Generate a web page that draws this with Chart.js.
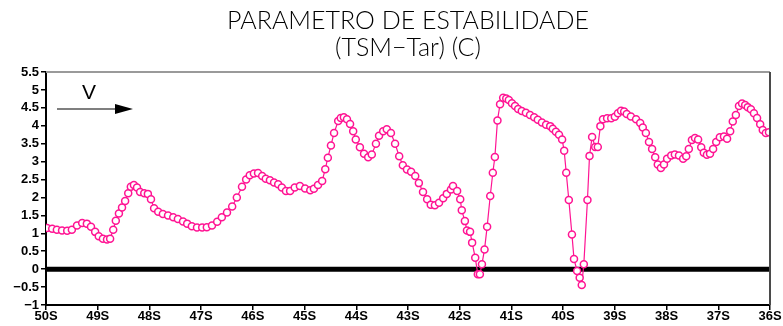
<!DOCTYPE html>
<html>
<head>
<meta charset="utf-8">
<script src="https://cdn.jsdelivr.net/npm/chart.js@4.4.1/dist/chart.umd.min.js"></script>
<style>
  html, body { margin: 0; padding: 0; background: #fff; }
  #c { display: block; }
</style>
</head>
<body>
<canvas id="c" width="783" height="326"></canvas>
<script>
// ---- data ----
const titleLines = ['PARAMETRO DE ESTABILIDADE', '(TSM\u2212Tar) (C)'];
const directionLabel = 'V';
const latRange = [-50, -36];
const zeroLevel = 0;
const xTickLabels = ['50S','49S','48S','47S','46S','45S','44S','43S','42S','41S','40S','39S','38S','37S','36S'];
const yTickLabels = ['\u22121','\u22120.5','0','0.5','1','1.5','2','2.5','3','3.5','4','4.5','5','5.5'];

const lats = [
  -49.98,-49.88,-49.79,-49.69,-49.59,-49.50,-49.40,-49.30,-49.21,-49.13,-49.05,-48.98,-48.90,-48.82,-48.76,
  -48.70,-48.65,-48.59,-48.53,-48.47,-48.41,-48.36,-48.30,-48.24,-48.18,-48.10,-48.03,-47.97,-47.91,-47.83,
  -47.74,-47.64,-47.54,-47.45,-47.35,-47.27,
  -47.18,-47.08,-46.98,-46.89,-46.79,-46.69,-46.60,-46.50,-46.40,-46.31,-46.21,-46.13,-46.06,-45.98,-45.90,
  -45.82,-45.75,-45.67,-45.59,-45.51,-45.44,-45.36,-45.28,-45.19,-45.09,-44.99,-44.89,-44.82,-44.74,-44.66,
  -44.60,-44.55,-44.49,-44.43,
  -44.35,-44.30,-44.24,-44.18,-44.12,-44.06,-44.01,-43.93,-43.85,-43.77,-43.70,-43.62,-43.56,-43.48,-43.41,
  -43.33,-43.25,-43.17,-43.10,-43.02,-42.94,-42.86,-42.79,-42.71,-42.63,-42.56,-42.48,-42.40,-42.32,-42.25,
  -42.17,-42.13,-42.05,-41.99,-41.96,-41.90,-41.86,-41.80,-41.76,-41.70,-41.65,-41.61,-41.57,-41.52,-41.47,
  -41.41,-41.36,-41.32,-41.27,-41.22,-41.16,
  -41.10,-41.05,-40.99,-40.93,-40.87,-40.80,-40.72,-40.64,-40.56,-40.49,-40.41,-40.33,-40.25,-40.20,-40.14,
  -40.08,-40.02,-39.98,-39.94,-39.89,-39.83,-39.79,-39.73,-39.68,-39.64,-39.60,-39.53,-39.49,-39.44,-39.38,
  -39.33,-39.28,-39.23,-39.15,-39.07,-39.00,-38.94,-38.88,-38.82,-38.77,-38.69,
  -38.59,-38.51,-38.46,-38.40,-38.34,-38.28,-38.22,-38.17,-38.11,-38.05,-37.99,-37.91,-37.84,-37.76,-37.68,
  -37.62,-37.57,-37.51,-37.45,-37.39,-37.33,-37.28,-37.22,-37.16,-37.10,-37.04,-36.97,-36.89,-36.83,-36.77,
  -36.72,-36.66,-36.60,-36.54,-36.48,-36.43,-36.37,-36.31,-36.25,-36.19,-36.14,-36.08,-36.02
];

const stability = [
  1.15,1.13,1.10,1.08,1.07,1.10,1.22,1.29,1.27,1.18,1.04,0.92,0.85,0.83,0.85,
  1.10,1.35,1.55,1.72,1.90,2.12,2.30,2.35,2.28,2.15,2.12,2.10,1.95,1.70,1.60,
  1.54,1.50,1.45,1.40,1.33,1.27,
  1.20,1.16,1.16,1.17,1.22,1.32,1.45,1.58,1.75,2.00,2.30,2.50,2.62,2.67,2.68,
  2.60,2.52,2.48,2.42,2.37,2.28,2.18,2.18,2.28,2.32,2.25,2.20,2.24,2.35,2.46,
  2.79,3.11,3.45,3.80,
  4.13,4.22,4.24,4.18,4.05,3.85,3.62,3.40,3.22,3.12,3.20,3.50,3.72,3.85,3.90,
  3.80,3.50,3.15,2.90,2.78,2.72,2.60,2.40,2.15,1.95,1.80,1.78,1.85,1.98,2.10,
  2.22,2.32,2.18,1.95,1.64,1.34,1.08,1.04,0.74,0.32,-0.14,-0.14,0.14,0.55,1.18,
  2.04,2.69,3.13,4.15,4.60,4.78,
  4.76,4.72,4.63,4.55,4.47,4.41,4.36,4.30,4.24,4.17,4.09,4.03,3.99,3.92,3.83,
  3.75,3.62,3.30,2.69,1.93,0.97,0.28,-0.05,-0.24,-0.44,0.14,1.93,3.16,3.69,3.41,
  3.41,3.99,4.18,4.21,4.21,4.25,4.35,4.42,4.40,4.33,4.26,
  4.18,4.08,3.95,3.80,3.55,3.35,3.12,2.92,2.82,2.92,3.08,3.17,3.20,3.17,3.08,
  3.15,3.35,3.60,3.66,3.62,3.40,3.25,3.19,3.22,3.35,3.55,3.68,3.70,3.64,3.85,
  4.12,4.30,4.55,4.62,4.58,4.52,4.46,4.35,4.22,4.04,3.88,3.80,3.82
];

// ---- plugins ----
const framePlugin = {
  id: 'frame',
  afterDatasetsDraw(chart) {
    const {ctx, chartArea: a} = chart;
    ctx.save();
    ctx.lineWidth = 2;
    ctx.strokeStyle = '#9a9a9a';
    ctx.beginPath(); ctx.moveTo(a.left, a.top); ctx.lineTo(a.right, a.top); ctx.stroke();
    ctx.strokeStyle = '#4a4a4a';
    ctx.beginPath(); ctx.moveTo(a.right, a.top); ctx.lineTo(a.right, a.bottom); ctx.stroke();
    ctx.restore();
  }
};

const arrowPlugin = {
  id: 'dirArrow',
  afterDraw(chart) {
    const {ctx, chartArea: a} = chart;
    const x0 = a.left + 11, y0 = a.top + 37, len = 76;
    ctx.save();
    ctx.fillStyle = '#000';
    ctx.strokeStyle = '#000';
    ctx.lineWidth = 1.2;
    ctx.beginPath(); ctx.moveTo(x0, y0); ctx.lineTo(x0 + len - 14, y0); ctx.stroke();
    ctx.beginPath();
    ctx.moveTo(x0 + len, y0);
    ctx.lineTo(x0 + len - 18, y0 - 5);
    ctx.lineTo(x0 + len - 18, y0 + 5);
    ctx.closePath(); ctx.fill();
    ctx.font = '21px "Liberation Sans", Arial, sans-serif';
    ctx.textAlign = 'center';
    ctx.textBaseline = 'middle';
    ctx.fillText(directionLabel, x0 + 32, y0 - 16);
    ctx.restore();
  }
};

const tickFont = { family: '"Liberation Sans", Arial, sans-serif', size: 13, weight: 'bold' };

new Chart(document.getElementById('c'), {
  type: 'line',
  data: {
    datasets: [
      {
        label: 'TSM-Tar',
        data: lats.map((x, i) => ({ x, y: stability[i] })),
        borderColor: '#ff1493',
        borderWidth: 1.2,
        pointRadius: 3.5,
        pointBorderWidth: 1.5,
        pointBackgroundColor: '#ffffff',
        pointBorderColor: '#ff1493',
        tension: 0,
        order: 0
      },
      {
        label: 'zero',
        data: latRange.map(x => ({ x, y: zeroLevel })),
        borderColor: '#000000',
        borderWidth: 5,
        pointRadius: 0,
        order: 1
      }
    ]
  },
  options: {
    responsive: false,
    animation: false,
    devicePixelRatio: 1,
    layout: { padding: { left: 0, right: 13, top: 0, bottom: 0 } },
    plugins: {
      legend: { display: false },
      tooltip: { enabled: false },
      title: {
        display: true,
        fullSize: false,
        text: titleLines,
        color: '#000',
        font: { family: 'Lato, "Liberation Sans", sans-serif', size: 25, weight: '300', lineHeight: 1.06 },
        padding: { top: 8, bottom: 11 }
      }
    },
    scales: {
      x: {
        type: 'linear',
        min: latRange[0],
        max: latRange[1],
        afterFit(s) { s.height = 21; },
        ticks: {
          stepSize: 1,
          autoSkip: false,
          maxRotation: 0,
          padding: -1,
          color: '#000',
          font: tickFont,
          callback: (v, i) => xTickLabels[i]
        },
        grid: { drawOnChartArea: false, drawTicks: true, tickLength: 5, color: '#000', lineWidth: 1.5 },
        border: { display: true, color: '#000', width: 2 }
      },
      y: {
        min: -1,
        max: 5.5,
        afterFit(s) { s.width = 46; },
        ticks: {
          stepSize: 0.5,
          autoSkip: false,
          padding: 2,
          color: '#000',
          font: tickFont,
          callback: (v, i) => yTickLabels[i]
        },
        grid: { drawOnChartArea: false, drawTicks: true, tickLength: 5, color: '#000', lineWidth: 1.5 },
        border: { display: true, color: '#000', width: 2 }
      }
    }
  },
  plugins: [framePlugin, arrowPlugin]
});
</script>
</body>
</html>
